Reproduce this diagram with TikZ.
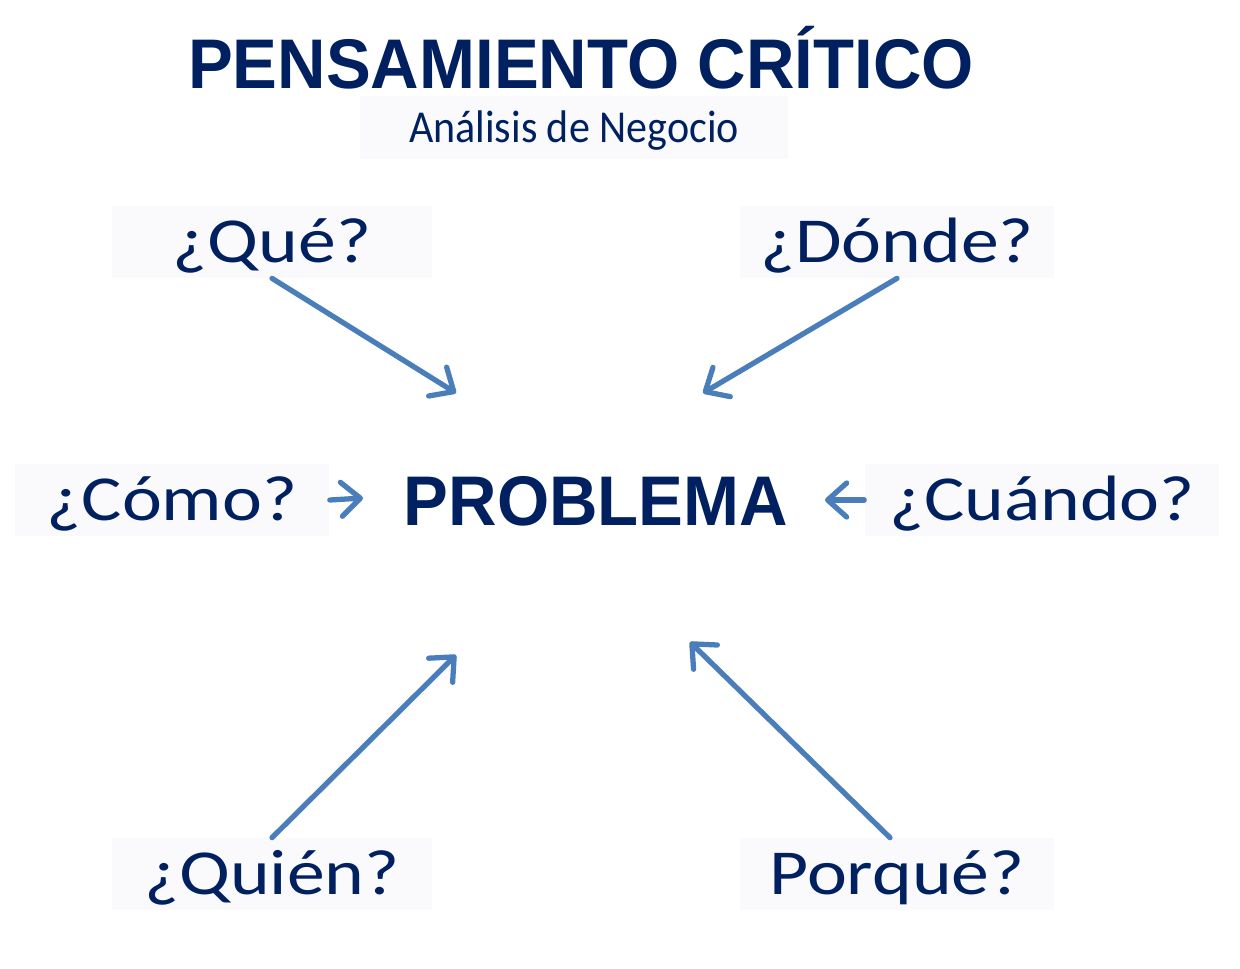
\documentclass[tikz,border=0pt]{standalone}
\usepackage{fontspec}
\setmainfont{Carlito}
\newfontfamily\headfont[FakeStretch=0.955]{Liberation Sans}
\newfontfamily\askfont[FakeStretch=1.18]{Carlito}
\newfontfamily\subfont[FakeStretch=0.92]{Carlito}
\usepackage{tikz}
\usetikzlibrary{arrows.meta, positioning}
\definecolor{mynavy}{RGB}{0,32,96}
\definecolor{myblue}{RGB}{74,126,187}
\definecolor{boxgray}{RGB}{250,250,252}
\tikzset{
  qbox/.style={rectangle, fill=boxgray, text=mynavy, inner sep=0pt,
    minimum width=6.4cm, minimum height=1.44cm,
    font=\askfont\fontsize{36.5}{40}\selectfont, text height=29.2pt, text depth=6pt},
  subbox/.style={rectangle, fill=boxgray, text=mynavy, inner sep=0pt,
    minimum width=8.56cm, minimum height=1.26cm,
    font=\subfont\fontsize{26}{30}\selectfont, text height=20.8pt, text depth=4.3pt},
  headtxt/.style={text=mynavy, inner sep=0pt, anchor=base,
    font=\headfont\bfseries\fontsize{40}{44}\selectfont},
  arrow/.style={-{Straight Barb[length=3.8mm, width=6.8mm, round]},
    line width=3pt, line cap=round, color=myblue}
}
\begin{document}
\begin{tikzpicture}[x=0.02cm, y=-0.02cm]
  \useasboundingbox[fill=white] (0,0) rectangle (1240,968);
  % Title
  \node[headtxt] (title) at (581,88) {PENSAMIENTO CRÍTICO};
  \node[subbox] (sub) at (574,127.5) {Análisis de Negocio};
  % Centre
  \node[headtxt] (problema) at (596,525) {PROBLEMA};
  % Questions
  \node[qbox] (que) at (272,242) {¿Qué?};
  \node[qbox, minimum width=6.3cm] (donde) at (897,242) {¿Dónde?};
  \node[qbox, minimum width=6.3cm] (como) at (172,500) {¿Cómo?};
  \node[qbox, minimum width=7.1cm] (cuando) at (1042,500) {¿Cuándo?};
  \node[qbox] (quien) at (272,874) {¿Quién?};
  \node[qbox, minimum width=6.3cm] (porque) at (897,874) {Porqué?};
  % Arrow tips
  \coordinate (tipque) at (456,393);
  \coordinate (tipdonde) at (703,393);
  \coordinate (tipcomo) at (363,498);
  \coordinate (tipcuando) at (825,500);
  \coordinate (tipquien) at (456,655);
  \coordinate (tipporque) at (690,642);
  % Arrows
  \draw[arrow] (que.south) -- (tipque);
  \draw[arrow] (donde.south) -- (tipdonde);
  \draw[arrow] (como.east) -- (tipcomo);
  \draw[arrow] (cuando.west) -- (tipcuando);
  \draw[arrow] (quien.north) -- (tipquien);
  \draw[arrow] ([xshift=-0.14cm]porque.north) -- (tipporque);
\end{tikzpicture}
\end{document}
